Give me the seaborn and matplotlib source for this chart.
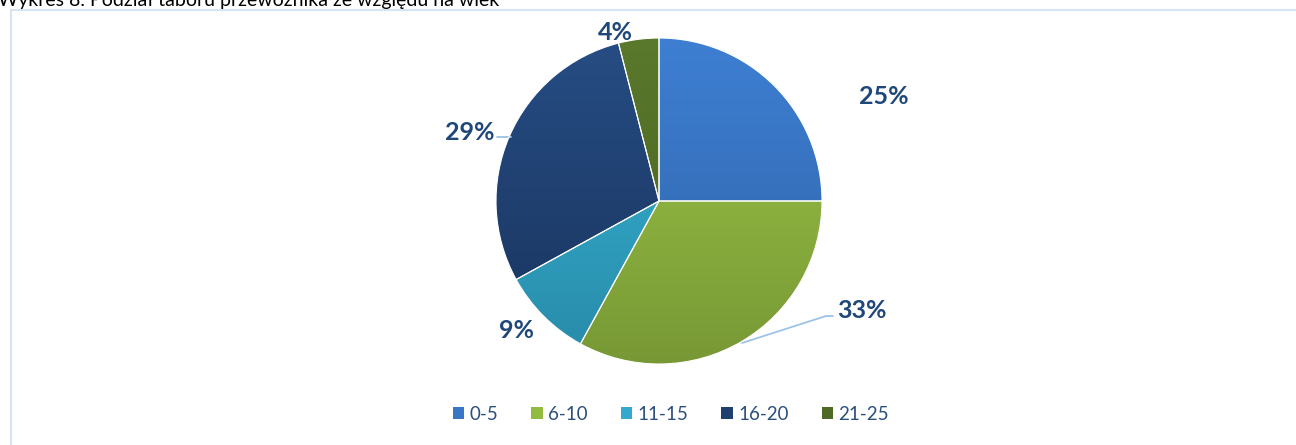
import numpy as np
import matplotlib
matplotlib.use("Agg")
import matplotlib.pyplot as plt
import matplotlib.colors as mcolors
from matplotlib.patches import Patch, Rectangle
import seaborn as sns

# ---- data ----
age_groups = ['0-5', '6-10', '11-15', '16-20', '21-25']
shares = [25, 33, 9, 29, 4]
# gradient colours per slice (top, bottom)
top_colors = ['#3e7fd3', '#a0c848', '#38b8da', '#264d84', '#5a792c']
bottom_colors = ['#2e62a6', '#779835', '#288aa8', '#19335c', '#47601f']
legend_colors = ['#3a76c6', '#93bb40', '#33a9cb', '#1f3f6e', '#4f6a24']
# label positions (pixels from top-left)
label_pos = [(884, 97), (862, 310), (516, 331), (470, 132), (615, 33)]
title = 'Wykres 8. Podział taboru przewoźnika ze względu na wiek'

W, H = 1296, 445
sns.set_theme(style='white')
plt.rcParams['font.family'] = ['Lato', 'DejaVu Sans']

fig = plt.figure(figsize=(W / 100, H / 100), dpi=100)
ax = fig.add_axes([0, 0, 1, 1])

cx, cy, r = 659, H - 201, 163
wedges, _ = ax.pie(shares, startangle=90, counterclock=False, radius=r,
                   center=(cx, cy), colors=legend_colors,
                   wedgeprops=dict(linewidth=0.8, edgecolor='white'))

# vertical gradient fill, clipped to each wedge
for w, c1, c2 in zip(wedges, top_colors, bottom_colors):
    cmap = mcolors.LinearSegmentedColormap.from_list('g', [c2, c1])
    grad = np.linspace(0, 1, 256).reshape(-1, 1)
    im = ax.imshow(grad, cmap=cmap, origin='lower', aspect='auto',
                   extent=(cx - r, cx + r, cy - r, cy + r), zorder=w.get_zorder())
    im.set_clip_path(w)
    w.set_facecolor('none')
    w.set_zorder(w.get_zorder() + 0.5)

ax.set_xlim(0, W)
ax.set_ylim(0, H)
ax.set_aspect('auto')
ax.axis('off')

# leader lines
line_c = '#9dc3e6'
ax.plot([742, 826, 833], [H - 343, H - 316, H - 316], color=line_c, lw=1.3, zorder=1)
ax.plot([497, 511], [H - 137, H - 137], color=line_c, lw=1.3, zorder=1)

label_c = '#1f477a'
for v, (px, py) in zip(shares, label_pos):
    ax.text(px, H - py, f'{v}%', ha='center', va='center', fontsize=18,
            fontweight='bold', color=label_c)

# frame
ax.add_patch(Rectangle((11, -5), W, H - 10 + 5, fill=False,
                       edgecolor='#d6e3f3', lw=1.5, zorder=0))

# title, cut at the top edge as in the source
fig.text(-2 / W, 1 - 6 / H, title, ha='left', va='baseline', fontsize=14,
         color='black')

handles = [Patch(facecolor=c, edgecolor='none') for c in legend_colors]
leg = fig.legend(handles, age_groups, loc='center', ncol=5,
                 bbox_to_anchor=(671 / W, 1 - 414 / H), frameon=False,
                 fontsize=13.5, handlelength=0.6, handleheight=0.6,
                 handletextpad=0.3, columnspacing=1.75)
for t in leg.get_texts():
    t.set_color('#2b4f7c')

fig.savefig('out.png', dpi=100)
